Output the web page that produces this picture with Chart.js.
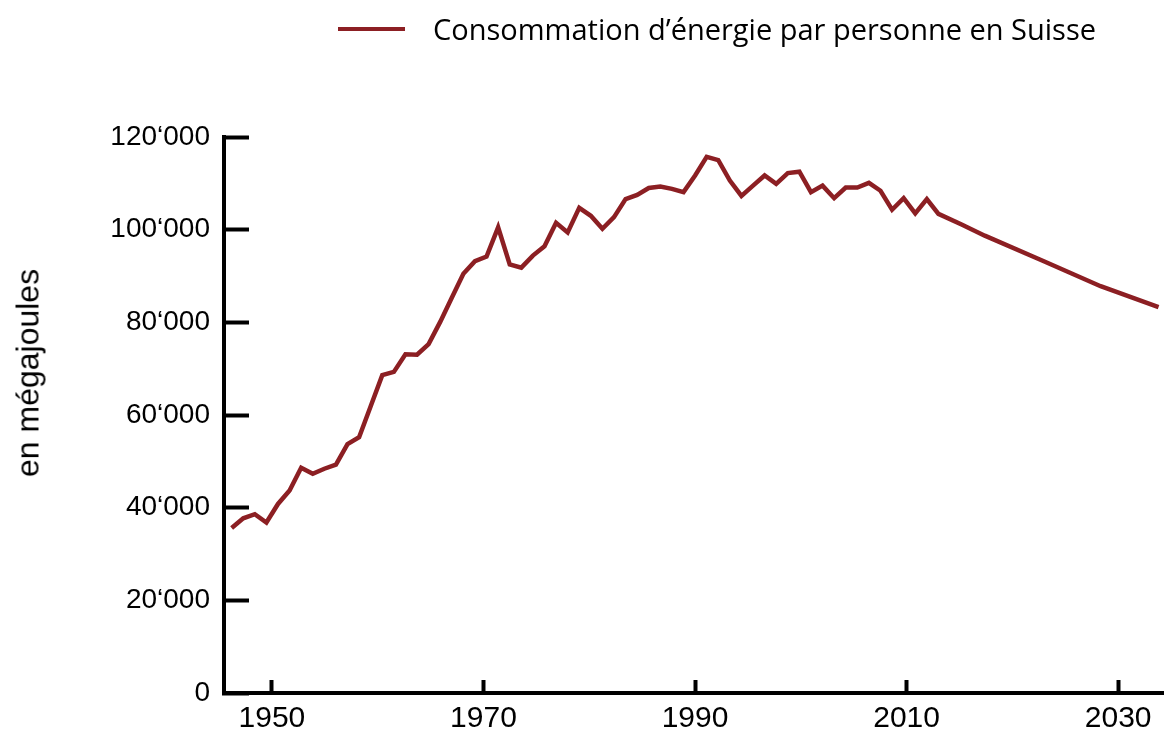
<!DOCTYPE html>
<html>
<head>
<meta charset="utf-8">
<script src="https://cdn.jsdelivr.net/npm/chart.js@4.4.1/dist/chart.umd.min.js"></script>
<style>
  body { margin: 0; background: #fff; }
  #wrap { position: relative; width: 1173px; height: 733px; }
  #legend {
    position: absolute; left: 338px; top: 9px;
    display: flex; align-items: center;
    font-family: 'Open Sans', sans-serif; font-size: 29px; line-height: 40px; color: #000;
  }
  #legend .swatch { display: inline-block; width: 67px; height: 4px; margin-right: 28px; }
  #yTitle {
    position: absolute; left: 28px; top: 373px;
    transform: translate(-50%, -50%) rotate(-90deg);
    white-space: nowrap; color: #000;
    font-family: 'Liberation Sans', Arial, sans-serif; font-size: 32px;
  }
</style>
</head>
<body>
<div id="wrap">
  <canvas id="energyChart" width="1173" height="733"></canvas>
  <div id="legend"></div>
  <div id="yTitle">en mégajoules</div>
</div>
<script>
// series: energy use per person in Switzerland (MJ), history + outlook
var seriesLabel = 'Consommation d\u2019énergie par personne en Suisse';
var years = [1950, 1951, 1952, 1953, 1954, 1955, 1956, 1957, 1958, 1959,
	1960, 1961, 1962, 1963, 1964, 1965, 1966, 1967, 1968, 1969,
	1970, 1971, 1972, 1973, 1974, 1975, 1976, 1977, 1978, 1979,
	1980, 1981, 1982, 1983, 1984, 1985, 1986, 1987, 1988, 1989,
	1990, 1991, 1992, 1993, 1994, 1995, 1996, 1997, 1998, 1999,
	2000, 2001, 2002, 2003, 2004, 2005, 2006, 2007, 2008, 2009,
	2010, 2011, 2013, 2015, 2020, 2025, 2030];
var consumption = [35600, 37700, 38600, 36800, 40800, 43700, 48600, 47300, 48400, 49300,
	53700, 55200, 61900, 68600, 69300, 73100, 73000, 75300, 80100, 85300,
	90500, 93200, 94200, 100500, 92500, 91800, 94400, 96400, 101500, 99400,
	104700, 103000, 100200, 102700, 106600, 107500, 109000, 109300, 108800, 108100,
	111700, 115700, 115000, 110600, 107300, 109500, 111700, 109900, 112200, 112500,
	108100, 109500, 106800, 109100, 109100, 110100, 108400, 104300, 106800, 103500,
	106600, 103400, 101100, 98700, 93300, 87800, 83300];

// axis labels
var xTickYears = [1950, 1970, 1990, 2010, 2030];
var yTickValues = [0, 20000, 40000, 60000, 80000, 100000, 120000];

var lineColor = '#8c1f23';
var sansFont = "'Liberation Sans', Arial, sans-serif";

// 120000 -> 120‘000
function formatThousands(v) {
	return String(v).replace(/\B(?=(\d{3})+(?!\d))/g, '\u2018');
}

var points = years.map(function(y, i) {
	return { x: y, y: consumption[i] };
});

var ctx = document.getElementById('energyChart');
var chart = new Chart(ctx, {
	type: 'line',
	data: {
		datasets: [{
			label: seriesLabel,
			data: points,
			borderColor: lineColor,
			backgroundColor: lineColor,
			borderWidth: 4.5,
			pointRadius: 0,
			tension: 0,
			xAxisID: 'x',
			yAxisID: 'y'
		}]
	},
	options: {
		responsive: false,
		animation: false,
		layout: { padding: { top: 137, right: 1, left: 0, bottom: 0 } },
		plugins: {
			legend: { display: false },
			tooltip: { enabled: false }
		},
		scales: {
			// data axis (hidden)
			x: {
				type: 'linear',
				display: false,
				min: 1949.34,
				max: 2030.45
			},
			// labelled year axis, as printed in the source figure
			x2: {
				type: 'linear',
				position: 'bottom',
				min: 1945.47,
				max: 2034.31,
				afterBuildTicks: function(scale) {
					scale.ticks = xTickYears.map(function(v) { return { value: v }; });
				},
				afterFit: function(scale) { scale.height = 40; },
				border: { color: '#000', width: 4 },
				grid: { drawOnChartArea: false, tickLength: -13, tickColor: '#000', tickWidth: 4 },
				ticks: {
					color: '#000',
					font: { family: sansFont, size: 30 },
					padding: 21,
					maxRotation: 0,
					autoSkip: false,
					callback: function(v) { return String(v); }
				}
			},
			y: {
				min: 0,
				max: 120000,
				afterBuildTicks: function(scale) {
					scale.ticks = yTickValues.map(function(v) { return { value: v }; });
				},
				afterFit: function(scale) {
					scale.width = 224;
					// the big label padding should not shrink the plot height
					scale.paddingBottom = 0;
				},
				border: { color: '#000', width: 4 },
				grid: { drawOnChartArea: false, tickLength: -25, tickColor: '#000', tickWidth: 4 },
				ticks: {
					color: '#000',
					font: { family: sansFont, size: 28 },
					padding: 39,
					callback: function(v) { return formatThousands(v); }
				}
			}
		}
	}
});

// html legend from the dataset
var legendEl = document.getElementById('legend');
chart.data.datasets.forEach(function(ds) {
	var sw = document.createElement('span');
	sw.className = 'swatch';
	sw.style.background = ds.borderColor;
	var txt = document.createElement('span');
	txt.textContent = ds.label;
	legendEl.appendChild(sw);
	legendEl.appendChild(txt);
});
</script>
</body>
</html>
